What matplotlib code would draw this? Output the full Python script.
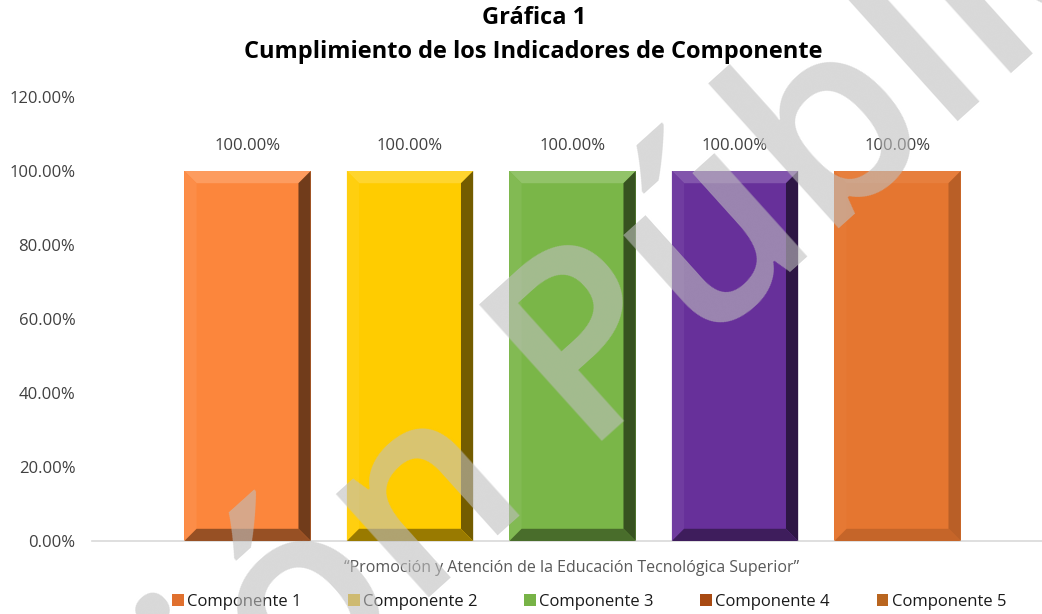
import numpy as np
import matplotlib
matplotlib.use("Agg")
import matplotlib.pyplot as plt
import matplotlib.colors as mcolors
from matplotlib.patches import Polygon, Patch

plt.rcParams['font.family'] = ['Open Sans', 'DejaVu Sans']

# data
series = ['Componente 1', 'Componente 2', 'Componente 3', 'Componente 4', 'Componente 5']
values = [100.0, 100.0, 100.0, 100.0, 100.0]
category = '\u201cPromoción y Atención de la Educación Tecnológica Superior\u201d'
yticks = [0, 20, 40, 60, 80, 100, 120]

bar_colors = ['#FC863C', '#FFCC00', '#7AB648', '#67309A', '#E57630']
legend_colors = ['#E0702E', '#E6B400', '#77B347', '#A84A12', '#B9651F']
bevel_strength = [1.0, 1.0, 1.0, 1.0, 0.35]


def shade(color, factor):
    """factor > 0 lightens, < 0 darkens"""
    c = np.array(mcolors.to_rgb(color))
    if factor >= 0:
        c = c + (1 - c) * factor
    else:
        c = c * (1 + factor)
    return tuple(np.clip(c, 0, 1))


fig = plt.figure(figsize=(10.42, 6.14), dpi=100)
ax = fig.add_axes([0.0883, 0.1189, 0.9117, 0.7231])

x = np.arange(len(series))
width = 0.777
bars = ax.bar(x, values, width=width, color=bar_colors, zorder=2)

# bevel look
dx, dy = 0.075, 3.3
for rect, col, s in zip(bars, bar_colors, bevel_strength):
    x0, x1 = rect.get_x(), rect.get_x() + rect.get_width()
    y0, y1 = 0, rect.get_height()
    polys = [
        ([(x0, y1), (x1, y1), (x1 - dx, y1 - dy), (x0 + dx, y1 - dy)], shade(col, 0.18 * s)),
        ([(x0, y0), (x0, y1), (x0 + dx, y1 - dy), (x0 + dx, y0 + dy)], shade(col, 0.06 * s)),
        ([(x1, y1), (x1, y0), (x1 - dx, y0 + dy), (x1 - dx, y1 - dy)], shade(col, -0.55 * s)),
        ([(x0, y0), (x1, y0), (x1 - dx, y0 + dy), (x0 + dx, y0 + dy)], shade(col, -0.4 * s)),
    ]
    for pts, c in polys:
        ax.add_patch(Polygon(pts, closed=True, facecolor=c, edgecolor='none', zorder=3))

for xi, v in zip(x, values):
    ax.text(xi, v + 4.5, f'{v:.2f}%', ha='center', va='bottom', fontsize=12,
            color='#404040', zorder=4)

ax.set_ylim(0, 120)
ax.set_xlim(-0.957, 4.889)
ax.set_yticks(yticks)
ax.set_yticklabels([f'{t:.2f}%' for t in yticks])
ax.tick_params(axis='y', length=0, pad=12, labelsize=12, labelcolor='#404040')
ax.set_xticks([])
ax.set_xlabel(category, fontsize=11.5, color='#595959')
ax.xaxis.set_label_coords(0.5047, -0.042)
for side in ['top', 'right', 'left']:
    ax.spines[side].set_visible(False)
ax.spines['bottom'].set_color('#D9D9D9')
ax.spines['bottom'].set_linewidth(1.2)

fig.text(534 / 1042, 1 - 18 / 614, 'Gráfica 1', ha='center', va='center',
         fontsize=17, fontweight='bold')
fig.text(533 / 1042, 1 - 52 / 614, 'Cumplimiento de los Indicadores de Componente',
         ha='center', va='center', fontsize=17, fontweight='bold')

handles = [Patch(facecolor=c, edgecolor='none') for c in legend_colors]
fig.legend(handles, series, loc='center', bbox_to_anchor=(589 / 1042, 1 - 602 / 614),
           ncol=5, frameon=False, fontsize=12, handlelength=0.7, handleheight=0.7,
           handletextpad=0.2, columnspacing=2.8, labelcolor='#1a1a1a')

# watermark
fig.text(505 / 1042, 1 - 440 / 614, 'Versión Pública', fontsize=185, fontweight='semibold',
         color=(0.75, 0.75, 0.75), alpha=0.6, rotation=42, rotation_mode='anchor',
         ha='center', va='center', zorder=10)

fig.savefig('out.png', dpi=100)
